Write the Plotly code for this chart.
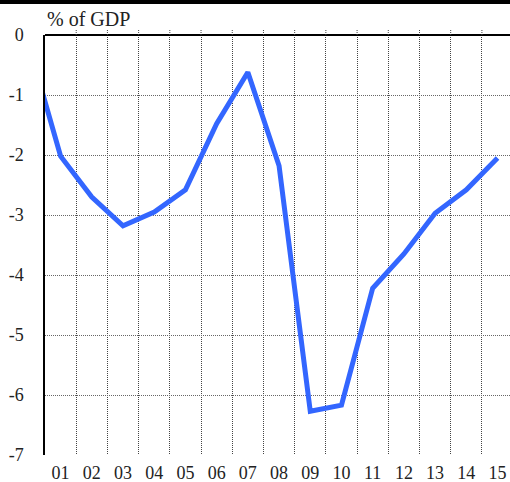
import plotly.graph_objects as go

# Fiscal balance, % of GDP, by year (00 .. 15)
years = ["00", "01", "02", "03", "04", "05", "06", "07", "08",
         "09", "10", "11", "12", "13", "14", "15"]
balance = [-0.2, -2.02, -2.70, -3.18, -2.95, -2.58, -1.48, -0.62, -2.18,
           -6.27, -6.17, -4.22, -3.65, -2.97, -2.58, -2.05]

tick_labels = years[1:]
y_ticks = [0, -1, -2, -3, -4, -5, -6, -7]

x_pos = list(range(len(years)))
year_bounds = [i + 0.5 for i in range(1, 15)]

serif = "Liberation Serif"

fig = go.Figure()
fig.add_trace(go.Scatter(
    x=x_pos, y=balance, mode="lines",
    line=dict(color="#3366FF", width=5),
    hoverinfo="skip",
))

# short stubs of the year separators above the top border
stubs = [dict(
    type="line", xref="x", yref="paper",
    x0=b, x1=b, y0=1, y1=1 + 5 / 420,
    line=dict(color="#444", width=1, dash="1px,1px"),
) for b in year_bounds]

fig.update_layout(
    width=510, height=482,
    margin=dict(l=45, r=0, t=35, b=27),
    paper_bgcolor="white", plot_bgcolor="white",
    showlegend=False,
    font=dict(family=serif, size=18, color="#222"),
    xaxis=dict(
        range=[0.5, 15.4],
        tickvals=x_pos[1:], ticktext=tick_labels,
        showgrid=False, zeroline=False, showline=False,
        ticks="", tickfont=dict(size=18, family=serif),
        ticklabelstandoff=5,
        minor=dict(
            tickvals=year_bounds,
            showgrid=True, gridcolor="#444", griddash="1px,1px", gridwidth=1,
        ),
    ),
    yaxis=dict(
        range=[-7, 0],
        tickvals=y_ticks, ticktext=[str(v) for v in y_ticks],
        showgrid=True, gridcolor="#666", griddash="1px,1px", gridwidth=1,
        zeroline=True, zerolinecolor="black", zerolinewidth=1.5,
        showline=True, linecolor="black", linewidth=1.5,
        ticks="", tickfont=dict(size=18, family=serif),
        ticklabelstandoff=16,
    ),
    annotations=[dict(
        text="% of GDP", xref="paper", yref="paper",
        x=0, y=1, xanchor="left", yanchor="bottom", yshift=3,
        showarrow=False, font=dict(size=20, family=serif, color="#222"),
    )],
    shapes=stubs + [dict(
        type="rect", xref="paper", yref="paper",
        x0=-0.2, x1=1.1, y0=1 + 31 / 420, y1=1 + 36 / 420,
        fillcolor="black", line=dict(width=0), layer="above",
    )],
)

fig.write_html("out.html")
